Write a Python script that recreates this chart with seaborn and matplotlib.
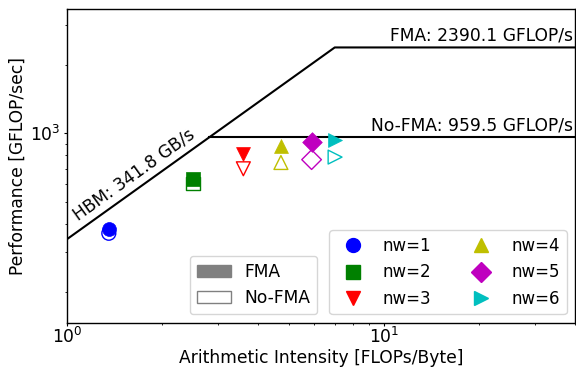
import matplotlib
matplotlib.use("Agg")
import matplotlib.pyplot as plt
import seaborn as sns
import numpy as np
from matplotlib.patches import Patch
from matplotlib.lines import Line2D

# ---- data ----
nw_labels = ["nw=1", "nw=2", "nw=3", "nw=4", "nw=5", "nw=6"]
intensity = [1.355, 2.49, 3.60, 4.73, 5.91, 7.01]
perf_fma = [379, 631, 813, 882, 920, 939]
perf_nofma = [363, 601, 698, 744, 766, 786]
markers = ["o", "s", "v", "^", "D", ">"]
colors = ["b", "g", "r", "y", "m", "c"]

hbm_bw = 341.8
peak_fma = 2390.1
peak_nofma = 959.5
x_min, x_max = 1.0, 40.0

plt.rcParams["font.family"] = ["DejaVu Sans"]
FS = 12.3

fig = plt.figure(figsize=(5.76, 3.67), dpi=100)
ax = fig.add_axes([0.1163, 0.1207, 0.998 - 0.1163, 0.9747 - 0.1207])

# roofline
ridge_fma = peak_fma / hbm_bw
ridge_nofma = peak_nofma / hbm_bw
sns.lineplot(x=[x_min, ridge_fma, x_max], y=[hbm_bw * x_min, peak_fma, peak_fma],
             color="k", linewidth=1.5, ax=ax, estimator=None, sort=False)
sns.lineplot(x=[ridge_nofma, x_max], y=[peak_nofma, peak_nofma],
             color="k", linewidth=1.5, ax=ax, estimator=None, sort=False)

# points
for a, pf, pn, m, c in zip(intensity, perf_fma, perf_nofma, markers, colors):
    sns.scatterplot(x=[a], y=[pn], marker=m, s=100, color=c, facecolors="none",
                    edgecolor=c, linewidth=1.0, ax=ax, zorder=3)
    sns.scatterplot(x=[a], y=[pf], marker=m, s=100, color=c, edgecolor=c,
                    linewidth=0.5, ax=ax, zorder=4)

ax.set_xscale("log")
ax.set_yscale("log")
ax.set_xlim(x_min, x_max)
ax.set_ylim(146.5, 3520)

for s in ax.spines.values():
    s.set_color("black")
    s.set_linewidth(1.0)
ax.tick_params(which="both", direction="out", labelsize=FS, colors="black")
ax.tick_params(axis="x", which="both", pad=0.2)
ax.tick_params(axis="y", which="both", pad=2.0)
ax.tick_params(which="major", length=2.5, width=0.8)
ax.tick_params(which="minor", length=1.5, width=0.6)

ax.set_xlabel("Arithmetic Intensity [FLOPs/Byte]", fontsize=FS, labelpad=1.5)
ax.set_ylabel("Performance [GFLOP/sec]", fontsize=FS, labelpad=2.5)

# annotations
xt = 1.1
ax.annotate(f"HBM: {hbm_bw} GB/s", xy=(xt, hbm_bw * xt), xytext=(0, 4),
            textcoords="offset points", rotation=35.6, rotation_mode="anchor",
            ha="left", va="bottom", fontsize=FS)
ax.annotate(f"FMA: {peak_fma} GFLOP/s", xy=(x_max, peak_fma), xytext=(-1.5, 2),
            textcoords="offset points", ha="right", va="bottom", fontsize=FS)
ax.annotate(f"No-FMA: {peak_nofma} GFLOP/s", xy=(x_max, peak_nofma), xytext=(-1.5, 2),
            textcoords="offset points", ha="right", va="bottom", fontsize=FS)

# legends
h1 = [Patch(facecolor="gray", edgecolor="gray", label="FMA"),
      Patch(facecolor="white", edgecolor="gray", label="No-FMA")]
leg1 = ax.legend(handles=h1, loc="lower right", bbox_to_anchor=(0.510, 0.0),
                 fontsize=FS)
ax.add_artist(leg1)
h2 = [Line2D([], [], linestyle="none", marker=m, color=c, markersize=10, label=l)
      for m, c, l in zip(markers, colors, nw_labels)]
ax.legend(handles=h2, loc="lower right", ncol=2, fontsize=12)

fig.savefig("out.png", dpi=100)
